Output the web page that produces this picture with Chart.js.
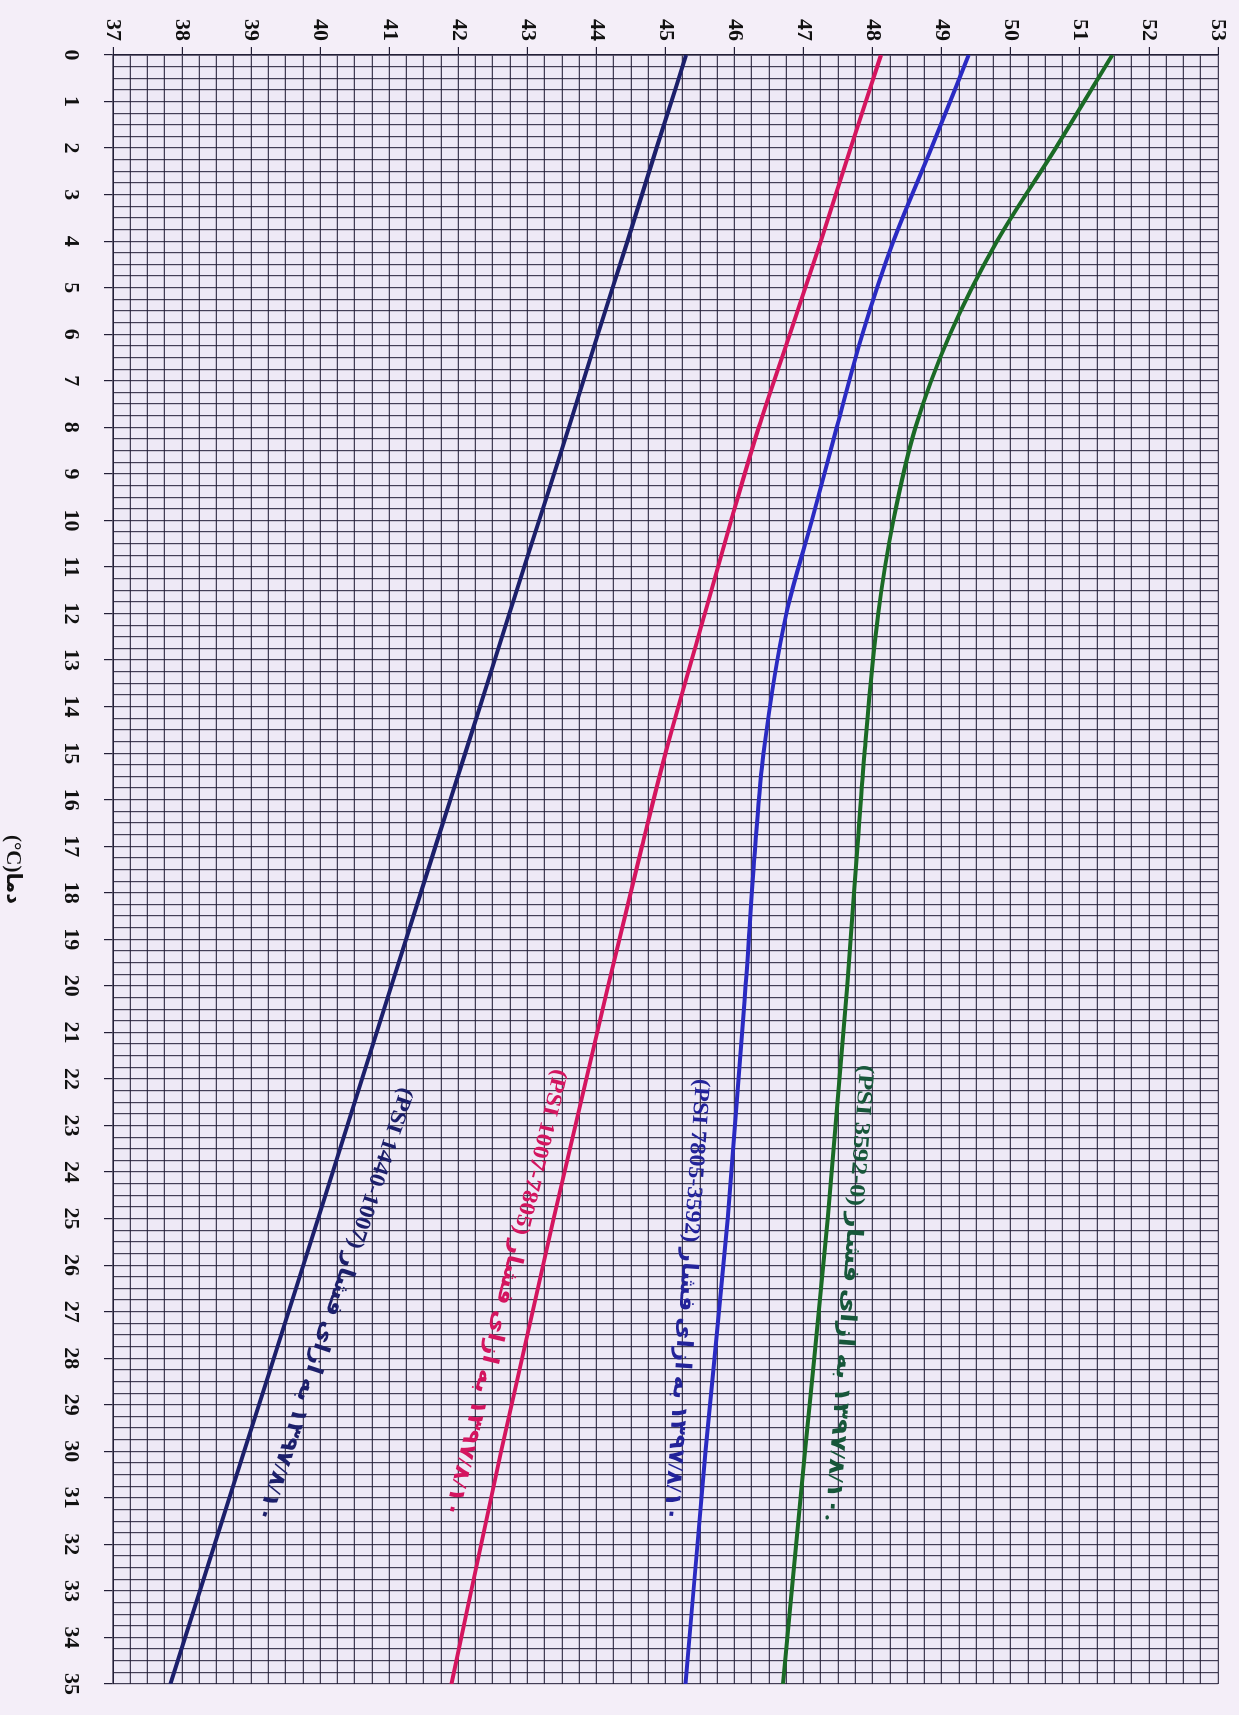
<!DOCTYPE html>
<html>
<head>
<meta charset="utf-8">
<title>Chart</title>
<script src="https://cdn.jsdelivr.net/npm/chart.js@4.4.1/dist/chart.umd.min.js"></script>
<style>
  html, body { margin: 0; padding: 0; background: #f4eef8; overflow: hidden; }
  /* the sheet is drawn landscape and turned a quarter clockwise, like the scan */
  #sheet {
    position: absolute; left: 0; top: 0;
    width: 1715px; height: 1239px;
    transform-origin: 0 0;
    transform: translateX(1239px) rotate(90deg);
  }
</style>
</head>
<body>
<div id="sheet"><canvas id="chart" width="1715" height="1239"></canvas></div>
<script>
"use strict";

// temperature (°C) where each curve was read
const temps = [0, 2, 4, 6, 8, 10, 12, 15, 17, 20, 25, 30, 35];

// values on the 37..53 axis for each curve
const curve1440 = [45.3, 44.87, 44.45, 44.02, 43.6, 43.17, 42.74, 42.1, 41.67, 41.03, 39.97, 38.9, 37.83];
const curve7805 = [48.12, 47.68, 47.25, 46.8, 46.35, 45.95, 45.57, 45.0, 44.66, 44.17, 43.38, 42.62, 41.9];
const curve3592 = [49.39, 48.85, 48.3, 47.85, 47.48, 47.12, 46.75, 46.42, 46.3, 46.16, 45.9, 45.58, 45.29];
const curve0 = [51.47, 50.65, 49.8, 49.12, 48.62, 48.3, 48.08, 47.88, 47.78, 47.63, 47.35, 47.02, 46.7];

const seriesNames = ['PSI 1440-1007', 'PSI 1007-7805', 'PSI 7805-3592', 'PSI 3592-0'];
const seriesColors = ['#1c1f6b', '#d4155f', '#2a2ac2', '#1a6a25'];

// hand written notes beside each curve: range, words, date
const noteRanges = ['(PSI 1440-1007)', '(PSI 1007-7805)', '(PSI 7805-3592)', '(PSI 3592-0)'];
const noteWords = ['به ازای فشار', 'به ازای فشار', 'به ازای فشار', 'به ازای فشار'];
const noteDates = ['۱۳۹۷/۸/۱۰', '۱۳۹۷/۸/۱۰', '۱۳۹۷/۸/۱۰', '۱۳۹۷/۸/۱۰.'];
const noteColors = ['#1c1f6b', '#d4155f', '#23239a', '#17573a'];
// start / end of each note as [temp, value]
const noteFrom = [[22.2, 41.25], [21.8, 43.47], [22.0, 45.52], [21.7, 47.9]];
const noteTo = [[31.5, 39.16], [31.4, 41.88], [31.5, 45.07], [31.5, 47.4]];

const axisTitle = '(°C)دما';

const gridColor = 'rgba(30, 26, 50, 0.82)';

function toPoints(values) {
  return temps.map((t, i) => ({ x: t, y: values[i] }));
}

const notesPlugin = {
  id: 'notes',
  afterDatasetsDraw(chart) {
    const ctx = chart.ctx;
    const xs = chart.scales.x, ys = chart.scales.y;
    noteRanges.forEach((range, i) => {
      const x0 = xs.getPixelForValue(noteFrom[i][0]);
      const y0 = ys.getPixelForValue(noteFrom[i][1]);
      const x1 = xs.getPixelForValue(noteTo[i][0]);
      const y1 = ys.getPixelForValue(noteTo[i][1]);
      const len = Math.hypot(x1 - x0, y1 - y0);
      const parts = [range + ' ', noteWords[i] + ' ', noteDates[i]];
      ctx.save();
      ctx.translate(x0, y0);
      ctx.rotate(Math.atan2(y1 - y0, x1 - x0));
      ctx.font = 'bold 22px "Liberation Serif", "DejaVu Sans"';
      ctx.fillStyle = noteColors[i];
      ctx.textAlign = 'left';
      ctx.textBaseline = 'middle';
      const widths = parts.map(p => ctx.measureText(p).width);
      const total = widths.reduce((a, b) => a + b, 0);
      ctx.scale(len / total, 1);
      let x = 0;
      parts.forEach((p, k) => {
        ctx.fillText(p, x, 0);
        x += widths[k];
      });
      ctx.restore();
    });
  }
};

const sheetBg = {
  id: 'sheetBg',
  beforeDraw(chart) {
    const ctx = chart.ctx;
    ctx.save();
    ctx.fillStyle = '#f4eef8';
    ctx.fillRect(0, 0, chart.width, chart.height);
    const a = chart.chartArea;
    ctx.fillStyle = '#eee9f6';
    ctx.fillRect(a.left, a.top, a.right - a.left, a.bottom - a.top);
    ctx.restore();
  }
};

const isWhole = v => Math.abs(v - Math.round(v)) < 1e-6;

new Chart(document.getElementById('chart'), {
  type: 'scatter',
  data: {
    datasets: [curve1440, curve7805, curve3592, curve0].map((vals, i) => ({
      label: seriesNames[i],
      data: toPoints(vals),
      showLine: true,
      borderColor: seriesColors[i],
      backgroundColor: seriesColors[i],
      borderWidth: 4,
      pointRadius: 0,
      cubicInterpolationMode: 'monotone'
    }))
  },
  options: {
    responsive: false,
    animation: false,
    layout: { padding: { left: 0, right: 18, top: 21, bottom: 0 } },
    plugins: {
      legend: { display: false },
      tooltip: { enabled: false }
    },
    scales: {
      x: {
        type: 'linear',
        position: 'bottom',
        min: 0,
        max: 35,
        afterFit(scale) { scale.height = 113; },
        border: { color: '#221e36', width: 1.6 },
        grid: {
          color: gridColor,
          lineWidth: 1.2,
          tickLength: 9,
          tickColor: c => isWhole(c.tick.value) ? '#221e36' : 'transparent'
        },
        ticks: {
          stepSize: 0.25,
          autoSkip: false,
          maxTicksLimit: 200,
          maxRotation: 0,
          minRotation: 0,
          padding: 20,
          color: '#111',
          font: { family: '"Liberation Serif"', size: 22, weight: 'bold' },
          callback: v => isWhole(v) ? String(Math.round(v)) : ''
        },
        title: {
          display: true,
          text: axisTitle,
          color: '#111',
          padding: { top: 28, bottom: 0 },
          font: { family: '"Liberation Serif", "DejaVu Sans"', size: 21, weight: 'bold' }
        }
      },
      y: {
        type: 'linear',
        position: 'left',
        min: 37,
        max: 53,
        afterFit(scale) { scale.width = 55; },
        border: { color: '#221e36', width: 1.6 },
        grid: {
          color: gridColor,
          lineWidth: 1.2,
          tickLength: 8,
          tickColor: c => isWhole(c.tick.value) ? '#221e36' : 'transparent'
        },
        ticks: {
          stepSize: 0.25,
          autoSkip: false,
          maxTicksLimit: 200,
          padding: 6,
          color: '#111',
          font: { family: '"Liberation Serif"', size: 22, weight: 'bold' },
          callback: v => isWhole(v) ? String(Math.round(v)) : ''
        }
      }
    }
  },
  plugins: [sheetBg, notesPlugin]
});
</script>
</body>
</html>
